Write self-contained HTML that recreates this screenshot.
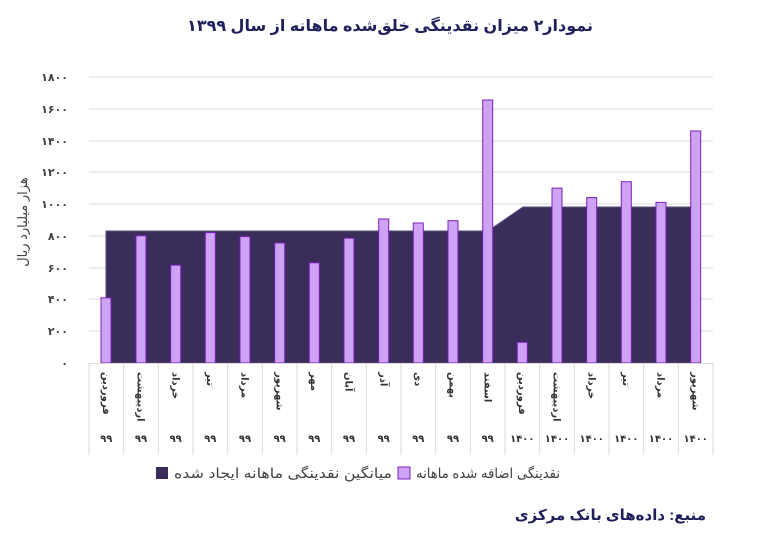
<!DOCTYPE html>
<html><head><meta charset="utf-8"><style>
body{margin:0;background:#fff;width:770px;height:536px;overflow:hidden}
text{font-family:"Liberation Sans","DejaVu Sans",sans-serif}
</style></head><body>
<svg width="770" height="536" xmlns="http://www.w3.org/2000/svg">
<text x="390" y="31" text-anchor="middle" font-size="16" font-weight="bold" fill="#1f1f5c">نمودار۲ میزان نقدینگی خلق‌شده ماهانه از سال ۱۳۹۹</text>
<g stroke="#d9d9d9" stroke-width="1">
<line x1="89" x2="713" y1="77" y2="77"/><line x1="89" x2="713" y1="109" y2="109"/><line x1="89" x2="713" y1="141" y2="141"/><line x1="89" x2="713" y1="172" y2="172"/><line x1="89" x2="713" y1="204" y2="204"/><line x1="89" x2="713" y1="236" y2="236"/><line x1="89" x2="713" y1="268" y2="268"/><line x1="89" x2="713" y1="299" y2="299"/><line x1="89" x2="713" y1="331" y2="331"/>
</g>
<g font-size="11" fill="#404040" text-anchor="end" font-weight="bold">
<text x="68" y="81">۱۸۰۰</text><text x="68" y="113">۱۶۰۰</text><text x="68" y="145">۱۴۰۰</text><text x="68" y="176">۱۲۰۰</text><text x="68" y="208">۱۰۰۰</text><text x="68" y="240">۸۰۰</text><text x="68" y="272">۶۰۰</text><text x="68" y="303">۴۰۰</text><text x="68" y="335">۲۰۰</text><text x="68" y="367">۰</text>
</g>
<text transform="translate(27,222) rotate(-90)" text-anchor="middle" font-size="13" fill="#404040">هزار میلیارد ریال</text>
<polygon points="106,231 488,231 523,207 696,207 696,363 106,363" fill="#3b2d5a" stroke="#5a4a80" stroke-width="1"/>
<g fill="#cfa3f3" stroke="#7a1fc0" stroke-width="1">
<rect x="101" y="297.8" width="10" height="65.2"/>
<rect x="136" y="235.8" width="10" height="127.2"/>
<rect x="170.7" y="265.2" width="10" height="97.8"/>
<rect x="205.3" y="232.6" width="10" height="130.4"/>
<rect x="240" y="236.6" width="10" height="126.4"/>
<rect x="274.7" y="243" width="10" height="120"/>
<rect x="309.3" y="262.8" width="10" height="100.2"/>
<rect x="344" y="238.2" width="10" height="124.8"/>
<rect x="378.7" y="219" width="10" height="144"/>
<rect x="413.3" y="223" width="10" height="140"/>
<rect x="448" y="220.7" width="10" height="142.3"/>
<rect x="482.7" y="100" width="10" height="263"/>
<rect x="517.3" y="342.3" width="10" height="20.7"/>
<rect x="552" y="188.1" width="10" height="174.9"/>
<rect x="586.7" y="197.6" width="10" height="165.4"/>
<rect x="621.3" y="181.7" width="10" height="181.3"/>
<rect x="656" y="202.4" width="10" height="160.6"/>
<rect x="690.7" y="131" width="10" height="232"/>
</g>
<g stroke="#d9d9d9" stroke-width="1">
<line x1="89" x2="713" y1="363.5" y2="363.5"/>
<line x1="89" x2="89" y1="363" y2="455"/><line x1="123.7" x2="123.7" y1="363" y2="455"/><line x1="158.3" x2="158.3" y1="363" y2="455"/><line x1="193" x2="193" y1="363" y2="455"/><line x1="227.7" x2="227.7" y1="363" y2="455"/><line x1="262.3" x2="262.3" y1="363" y2="455"/><line x1="297" x2="297" y1="363" y2="455"/><line x1="331.7" x2="331.7" y1="363" y2="455"/><line x1="366.3" x2="366.3" y1="363" y2="455"/><line x1="401" x2="401" y1="363" y2="455"/><line x1="435.7" x2="435.7" y1="363" y2="455"/><line x1="470.3" x2="470.3" y1="363" y2="455"/><line x1="505" x2="505" y1="363" y2="455"/><line x1="539.7" x2="539.7" y1="363" y2="455"/><line x1="574.3" x2="574.3" y1="363" y2="455"/><line x1="609" x2="609" y1="363" y2="455"/><line x1="643.7" x2="643.7" y1="363" y2="455"/><line x1="678.3" x2="678.3" y1="363" y2="455"/><line x1="713" x2="713" y1="363" y2="455"/>
</g>
<g font-size="10" fill="#333" font-weight="bold">
<text transform="translate(103,372) rotate(90)">فروردین</text>
<text transform="translate(137.7,372) rotate(90)">اردیبهشت</text>
<text transform="translate(172.3,372) rotate(90)">خرداد</text>
<text transform="translate(207,372) rotate(90)">تیر</text>
<text transform="translate(241.7,372) rotate(90)">مرداد</text>
<text transform="translate(276.3,372) rotate(90)">شهریور</text>
<text transform="translate(311,372) rotate(90)">مهر</text>
<text transform="translate(345.7,372) rotate(90)">آبان</text>
<text transform="translate(380.3,372) rotate(90)">آذر</text>
<text transform="translate(415,372) rotate(90)">دی</text>
<text transform="translate(449.7,372) rotate(90)">بهمن</text>
<text transform="translate(484.3,372) rotate(90)">اسفند</text>
<text transform="translate(519,372) rotate(90)">فروردین</text>
<text transform="translate(553.7,372) rotate(90)">اردیبهشت</text>
<text transform="translate(588.3,372) rotate(90)">خرداد</text>
<text transform="translate(623,372) rotate(90)">تیر</text>
<text transform="translate(657.7,372) rotate(90)">مرداد</text>
<text transform="translate(692.3,372) rotate(90)">شهریور</text>
</g>
<g font-size="10" fill="#333" text-anchor="middle" font-weight="bold">
<text x="106.3" y="442">۹۹</text><text x="141" y="442">۹۹</text><text x="175.7" y="442">۹۹</text><text x="210.3" y="442">۹۹</text><text x="245" y="442">۹۹</text><text x="279.7" y="442">۹۹</text><text x="314.3" y="442">۹۹</text><text x="349" y="442">۹۹</text><text x="383.7" y="442">۹۹</text><text x="418.3" y="442">۹۹</text><text x="453" y="442">۹۹</text><text x="487.7" y="442">۹۹</text><text x="522.3" y="442">۱۴۰۰</text><text x="557" y="442">۱۴۰۰</text><text x="591.7" y="442">۱۴۰۰</text><text x="626.3" y="442">۱۴۰۰</text><text x="661" y="442">۱۴۰۰</text><text x="695.7" y="442">۱۴۰۰</text>
</g>
<rect x="156" y="467" width="12" height="12" fill="#3b2d5a"/>
<text x="392" y="478" text-anchor="end" textLength="218" lengthAdjust="spacingAndGlyphs" font-size="14" fill="#404040">میانگین نقدینگی ماهانه ایجاد شده</text>
<rect x="398" y="467" width="12" height="12" fill="#cfa3f3" stroke="#7a1fc0"/>
<text x="560" y="478" text-anchor="end" textLength="144" lengthAdjust="spacingAndGlyphs" font-size="14" fill="#404040">نقدینگی اضافه شده ماهانه</text>
<text x="706" y="520" text-anchor="end" font-size="15" font-weight="bold" fill="#1f1f5c">منبع: داده‌های بانک مرکزی</text>
</svg>
</body></html>
